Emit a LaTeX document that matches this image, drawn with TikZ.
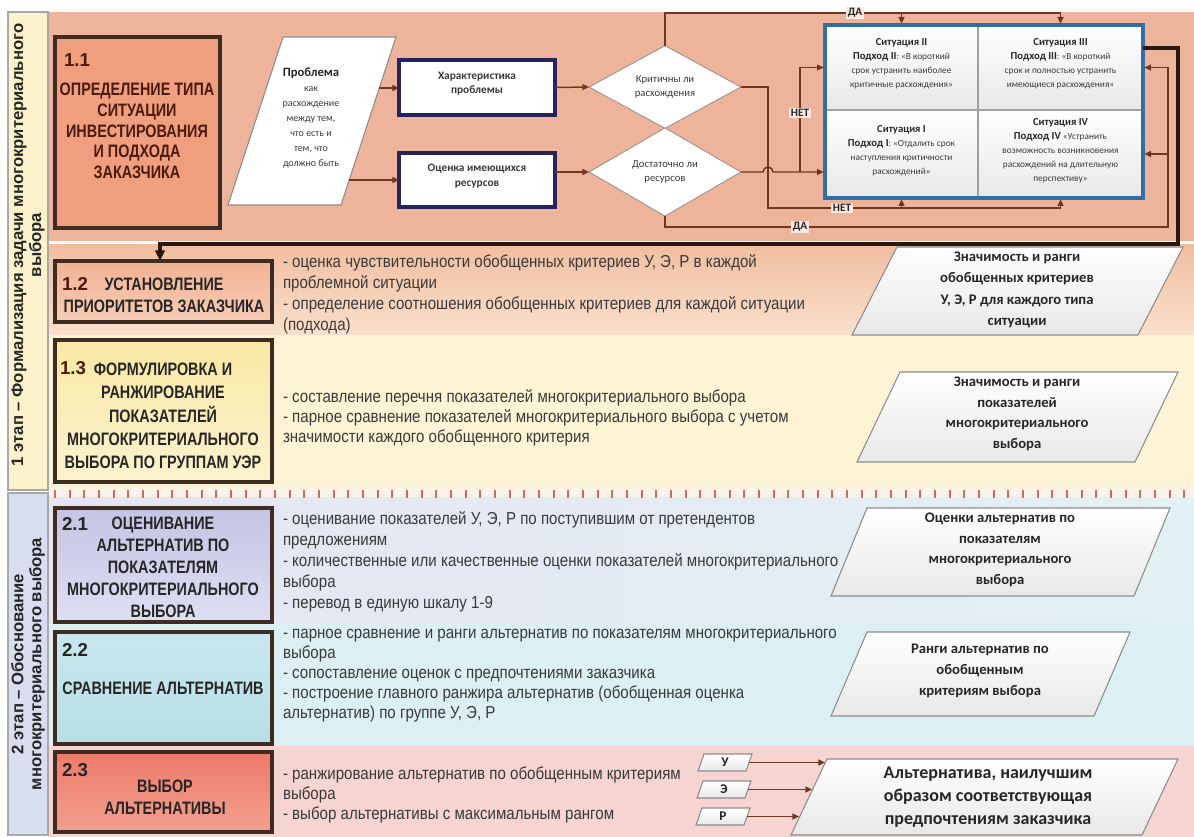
\documentclass[tikz,border=0pt]{standalone}
\usepackage{fontspec}
\setmainfont{Liberation Sans}
\newfontfamily\nar[FakeStretch=0.87]{Liberation Sans}
\newfontfamily\tnar[FakeStretch=0.8]{Liberation Sans}
\newfontfamily\calib{Carlito}
\usetikzlibrary{arrows.meta,calc,fit,shapes.geometric}
\definecolor{bandA}{HTML}{EDB49B}
\definecolor{bandBt}{HTML}{F0BEA1}
\definecolor{bandBb}{HTML}{FAE0CC}
\definecolor{bandC}{HTML}{FDF4D6}
\definecolor{bandG}{HTML}{F8F4EC}
\definecolor{bandDl}{HTML}{E6E4F2}
\definecolor{bandDr}{HTML}{E2F1F4}
\definecolor{bandE}{HTML}{DCEFF2}
\definecolor{bandF}{HTML}{F6D4D1}
\definecolor{sideA}{HTML}{FBF1CB}
\definecolor{sideB}{HTML}{D8DDF0}
\definecolor{sideedge}{HTML}{A8A8A8}
\definecolor{boxA}{HTML}{EF9E7E}
\definecolor{boxBt}{HTML}{F1B194}
\definecolor{boxBb}{HTML}{F6CDB5}
\definecolor{boxCt}{HTML}{F9E8A4}
\definecolor{boxCb}{HTML}{FBF3CF}
\definecolor{boxDt}{HTML}{C4C4E4}
\definecolor{boxDb}{HTML}{DEDEF3}
\definecolor{boxEt}{HTML}{C8E8EE}
\definecolor{boxEb}{HTML}{B8DEE6}
\definecolor{boxFt}{HTML}{EE7A6A}
\definecolor{boxFb}{HTML}{F3A090}
\definecolor{edge}{HTML}{3E2B22}
\definecolor{connc}{HTML}{70361F}
\definecolor{thickc}{HTML}{2A1710}
\definecolor{navy}{HTML}{24235C}
\definecolor{matblue}{HTML}{2F6EA7}
\definecolor{celline}{HTML}{A0A0A0}
\definecolor{txt}{HTML}{3A3A3A}
\definecolor{ttlA}{HTML}{4A1A0E}
\definecolor{ttlc}{HTML}{262626}
\definecolor{tick}{HTML}{D7675A}
\definecolor{paraedge}{HTML}{8C8C8C}
\definecolor{paralow}{HTML}{E8E8E8}
\definecolor{diaedge}{HTML}{A89890}
\definecolor{lblbg}{HTML}{FBE9E0}
\tikzset{
  box/.style={draw=edge, line width=2.3pt, inner sep=0pt},
  num/.style={font=\bfseries\fontsize{14}{16}\selectfont, anchor=west, text=#1},
  num/.default=ttlc,
  ttl/.style={font=\tnar\bfseries\fontsize{13.5}{#1}\selectfont, align=center, text=ttlc},
  ttl/.default=16,
  desc/.style={font=\nar\fontsize{13}{#1}\selectfont, align=left, anchor=west, text=txt},
  desc/.default=15.5,
  para/.style={draw=paraedge, line width=0.8pt, top color=white, bottom color=paralow},
  ptxt/.style={font=\calib\bfseries\fontsize{11}{#1}\selectfont, align=center, text=ttlc},
  ptxt/.default=15.5,
  conn/.style={draw=connc, line width=1.1pt},
  arr/.style={conn, -{Triangle[length=5pt,width=4.5pt]}},
  lbl/.style={font=\calib\bfseries\fontsize{8.5}{10}\selectfont, fill=lblbg, inner sep=1.2pt, text=ttlc},
  cell/.style={draw=celline, line width=1.5pt, top color=white, bottom color=paralow, align=center, font=\calib\fontsize{7}{10.5}\selectfont, text=txt},
  navybox/.style={draw=navy, line width=2.4pt, fill=white, align=center, font=\calib\bfseries\fontsize{8.5}{11}\selectfont, text=txt},
  dia/.style={diamond, draw=diaedge, line width=0.8pt, fill=white, minimum width=114pt, minimum height=54pt, inner sep=0pt, align=center, font=\calib\fontsize{8}{10.5}\selectfont, text=txt},
  sidetxt/.style={font=\bfseries\fontsize{12.5}{13.5}\selectfont, align=center, text=ttlc, rotate=90},
}
\newcommand\parapath[6][para]{\path[#1] (#2,#5) -- ({#2+#6},#4) -- (#3,#4) -- ({#3-#6},#5) -- cycle;}
\begin{document}
\begin{tikzpicture}[x=0.75pt,y=-0.75pt, every node/.style={inner sep=0pt, outer sep=0pt}]
\path[use as bounding box] (0,0) rectangle (1194,837);
\fill[white] (0,0) rectangle (1194,837);
% bands
\fill[bandA] (48,12) rectangle (1194,241);
\shade[top color=bandBt, bottom color=bandBb] (48,245) rectangle (1194,335);
\fill[bandC] (48,335) rectangle (1194,488);
\fill[bandG] (48,488) rectangle (1194,497);
\shade[left color=bandDl, right color=bandDr] (48,497) rectangle (1194,623);
\fill[bandE] (48,623) rectangle (1194,746);
\fill[bandF] (48,746) rectangle (1194,837);
\draw[draw=tick, line width=6pt, dash pattern=on 1.5pt off 9.5pt] (54,494) -- (1194,494);
% sidebars
\node[fit={(8,12) (48,490)}, fill=sideA, draw=sideedge, line width=0.8pt] (side1) {};
\node[sidetxt] (side1t) at (28,245) {1 этап – Формализация задачи многокритериального\\выбора};
\node[fit={(8,493) (48,835)}, fill=sideB, draw=sideedge, line width=0.8pt] (side2) {};
\node[sidetxt] (side2t) at (28,664) {2 этап – Обоснование\\многокритериального выбора};
% left boxes
\node[box, fit={(55,37) (220,228)}, fill=boxA] (b11) {};
\node[num=ttlA] (n11) at (64,60) {1.1};
\node[ttl=15.5, text=ttlA] (t11) at (137,131) {ОПРЕДЕЛЕНИЕ ТИПА\\СИТУАЦИИ\\ИНВЕСТИРОВАНИЯ\\И ПОДХОДА\\ЗАКАЗЧИКА};
\node[box, fit={(55,261) (272,322)}, top color=boxBt, bottom color=boxBb] (b12) {};
\node[num=ttlA] (n12) at (62,284) {1.2};
\node[ttl=16.5] (t12) at (164,295) {УСТАНОВЛЕНИЕ\\ПРИОРИТЕТОВ ЗАКАЗЧИКА};
\node[box, fit={(55,340) (272,482)}, top color=boxCt, bottom color=boxCb] (b13) {};
\node[num=ttlA] (n13) at (60,368) {1.3};
\node[ttl=17.5] (t13) at (163,416) {ФОРМУЛИРОВКА И\\РАНЖИРОВАНИЕ\\ПОКАЗАТЕЛЕЙ\\МНОГОКРИТЕРИАЛЬНОГО\\ВЫБОРА ПО ГРУППАМ УЭР};
\node[box, fit={(55,508) (272,622)}, top color=boxDt, bottom color=boxDb] (b21) {};
\node[num] (n21) at (62,524) {2.1};
\node[ttl=16.5] (t21) at (163,567.5) {ОЦЕНИВАНИЕ\\АЛЬТЕРНАТИВ ПО\\ПОКАЗАТЕЛЯМ\\МНОГОКРИТЕРИАЛЬНОГО\\ВЫБОРА};
\node[box, fit={(55,632) (272,744)}, top color=boxEt, bottom color=boxEb] (b22) {};
\node[num] (n22) at (62,650) {2.2};
\node[ttl] (t22) at (163,688) {СРАВНЕНИЕ АЛЬТЕРНАТИВ};
\node[box, fit={(55,752) (272,832)}, top color=boxFt, bottom color=boxFb] (b23) {};
\node[num] (n23) at (62,770) {2.3};
\node[ttl=16.5] (t23) at (165,797) {ВЫБОР\\АЛЬТЕРНАТИВЫ};
% descriptions
\node[desc=15.8] (d12t) at (283,294) {- оценка чувствительности обобщенных критериев У, Э, Р в каждой\\проблемной ситуации\\- определение соотношения обобщенных критериев для каждой ситуации\\(подхода)};
\node[desc=15] (d13t) at (283,418) {- составление перечня показателей многокритериального выбора\\- парное сравнение показателей многокритериального выбора с учетом\\значимости каждого обобщенного критерия};
\node[desc=15.8] (d21t) at (283,562) {- оценивание показателей У, Э, Р по поступившим от претендентов\\предложениям\\- количественные или качественные оценки показателей многокритериального\\выбора\\- перевод в единую шкалу 1-9};
\node[desc=15] (d22t) at (283,676) {- парное сравнение и ранги альтернатив по показателям многокритериального\\выбора\\- сопоставление оценок с предпочтениями заказчика\\- построение главного ранжира альтернатив (обобщенная оценка\\альтернатив) по группе У, Э, Р};
\node[desc=15] (d23t) at (283,795) {- ранжирование альтернатив по обобщенным критериям\\выбора\\- выбор альтернативы с максимальным рангом};
% right parallelograms
\parapath{852}{1183}{247}{335}{45}
\node[ptxt=16] (r12) at (1017,290) {Значимость и ранги\\обобщенных критериев\\У, Э, Р для каждого типа\\ситуации};
\parapath{857}{1178}{372}{462}{43}
\node[ptxt] (r13) at (1017,414) {Значимость и ранги\\показателей\\многокритериального\\выбора};
\parapath{831}{1170}{508}{596}{36}
\node[ptxt] (r21) at (1000,550) {Оценки альтернатив по\\показателям\\многокритериального\\выбора};
\parapath{831}{1130}{632}{716}{36}
\node[ptxt] (r22) at (980,671) {Ранги альтернатив по\\обобщенным\\критериям выбора};
\parapath{791}{1178}{759}{835}{36}
\node[ptxt, font=\calib\bfseries\fontsize{13.5}{17.25}\selectfont] (r23) at (988,797) {Альтернатива, наилучшим\\образом соответствующая\\предпочтениям заказчика};
% U E R
\parapath{698}{752}{754}{771}{6}
\node[font=\calib\bfseries\fontsize{10}{12}\selectfont, text=ttlc] (u) at (725,762.5) {У};
\parapath{697}{751}{781}{798}{6}
\node[font=\calib\bfseries\fontsize{10}{12}\selectfont, text=ttlc] (e) at (724,789.5) {Э};
\parapath{696}{750}{808}{825}{6}
\node[font=\calib\bfseries\fontsize{10}{12}\selectfont, text=ttlc] (r) at (723,816.5) {Р};
\coordinate (ue) at (749,762.5); \coordinate (ut) at (825,762.5);
\coordinate (ee) at (748,789.5); \coordinate (et) at (812,789.5);
\coordinate (re) at (747,816.5); \coordinate (rt) at (799,816.5);
\draw[arr] (ue) -- (ut);
\draw[arr] (ee) -- (et);
\draw[arr] (re) -- (rt);
% top diagram
\parapath[draw=paraedge, line width=0.8pt, fill=white]{228}{396}{37}{205}{55}
\node[font=\calib\fontsize{7.5}{11.25}\selectfont, align=center, text=txt] (prob) at (311,118) {{\bfseries\fontsize{9.5}{11.25}\selectfont\color{ttlc}Проблема}\\как\\расхождение\\между тем,\\что есть и\\тем, что\\должно быть};
\coordinate (pa) at (379,88);
\coordinate (pb) at (349,180);
\node[navybox, fit={(399,60) (555,115)}] (char) {Характеристика\\проблемы};
\node[navybox, fit={(399,153) (555,207)}] (ocen) {Оценка имеющихся\\ресурсов};
\node[dia] (d1) at (665,87) {Критичны ли\\расхождения};
\node[dia] (d2) at (665,172) {Достаточно ли\\ресурсов};
% matrix
\node[cell, fit={(825,25) (978,110)}] (c2) {\textbf{\fontsize{8}{10.5}\selectfont\color{ttlc}Ситуация II}\\\textbf{\fontsize{8}{10.5}\selectfont\color{ttlc}Подход II}: «В короткий\\срок устранить наиболее\\критичные расхождения»};
\node[cell, fit={(978,25) (1143,110)}] (c3) {\textbf{\fontsize{8}{10.5}\selectfont\color{ttlc}Ситуация III}\\\textbf{\fontsize{8}{10.5}\selectfont\color{ttlc}Подход III}: «В короткий\\срок и полностью устранить\\имеющиеся расхождения»};
\node[cell, fit={(825,110) (978,198)}] (c1) {\textbf{\fontsize{8}{10.5}\selectfont\color{ttlc}Ситуация I}\\\textbf{\fontsize{8}{10.5}\selectfont\color{ttlc}Подход I}: «Отдалить срок\\наступления критичности\\расхождений»};
\node[cell, fit={(978,110) (1143,198)}] (c4) {\textbf{\fontsize{8}{10.5}\selectfont\color{ttlc}Ситуация IV}\\\textbf{\fontsize{8}{10.5}\selectfont\color{ttlc}Подход IV} «Устранить\\возможность возникновения\\расхождений на длительную\\перспективу»};
\node[fit={(825,25) (1143,198)}, draw=matblue, line width=3pt] (mat) {};
% connectors
\draw[arr] (pa) -- (pa -| char.west);
\draw[arr] (pb) -- (pb -| ocen.west);
\draw[arr] (char.east) -- (d1.west);
\draw[arr] (d2.west -| ocen.east) -- (d2.west);
\coordinate (ytop) at (0,13);
\coordinate (ybot) at (0,208);
\coordinate (yda) at (0,227);
\coordinate (x1) at (768,0);
\coordinate (x2) at (800,0);
\coordinate (x3) at (1168,0);
\coordinate (x4) at (1178,0);
\coordinate (x5) at (160,0);
\coordinate (yq) at (0,48);
\coordinate (yth) at (0,244);
% YES from d1
\draw[conn] (d1.north) -- (d1.north |- ytop) -- (c3.north |- ytop);
\draw[arr, shorten >=1pt] (c2.north |- ytop) -- (c2.north |- mat.north);
\draw[arr, shorten >=1pt] (c3.north |- ytop) -- (c3.north |- mat.north);
% NO from d1
\draw[conn] (d1.east) -- (d1.east -| x1) -- (x1 |- ybot) -- (c4.south |- ybot);
\draw[arr, shorten >=1pt] (c1.south |- ybot) -- (c1.south |- mat.south);
\draw[arr, shorten >=1pt] (c4.south |- ybot) -- (c4.south |- mat.south);
% NO from d2
\draw[arr, shorten >=1pt] (d2.east) -- ($(d2.east -| x1)+(-5,0)$) arc[start angle=180, end angle=0, radius=3.75pt] -- (d2.east -| mat.west);
\draw[arr, shorten >=1pt] (d2.east -| x2) |- (c2.west);
% YES from d2
\draw[conn] (d2.south) |- (x3 |- yda) -- (x3 |- c3.east);
\draw[arr, shorten >=1pt] (x3 |- c3.east) -- (c3.east);
\draw[arr, shorten >=1pt] (x3 |- c4.east) -- (c4.east);
% thick return to 1.2
\draw[draw=thickc, line width=2.3pt, -{Triangle[length=8pt,width=7pt]}] (mat.east |- yq) -- (x4 |- yq) -- (x4 |- yth) -- (x5 |- yth) -- (x5 |- b12.north);
% labels
\node[lbl] (da1) at (855,13) {ДА};
\node[lbl] (net1) at (842,208) {НЕТ};
\node[lbl] (net2) at (800,113) {НЕТ};
\node[lbl] (da2) at (800,227) {ДА};
\end{tikzpicture}
\end{document}
